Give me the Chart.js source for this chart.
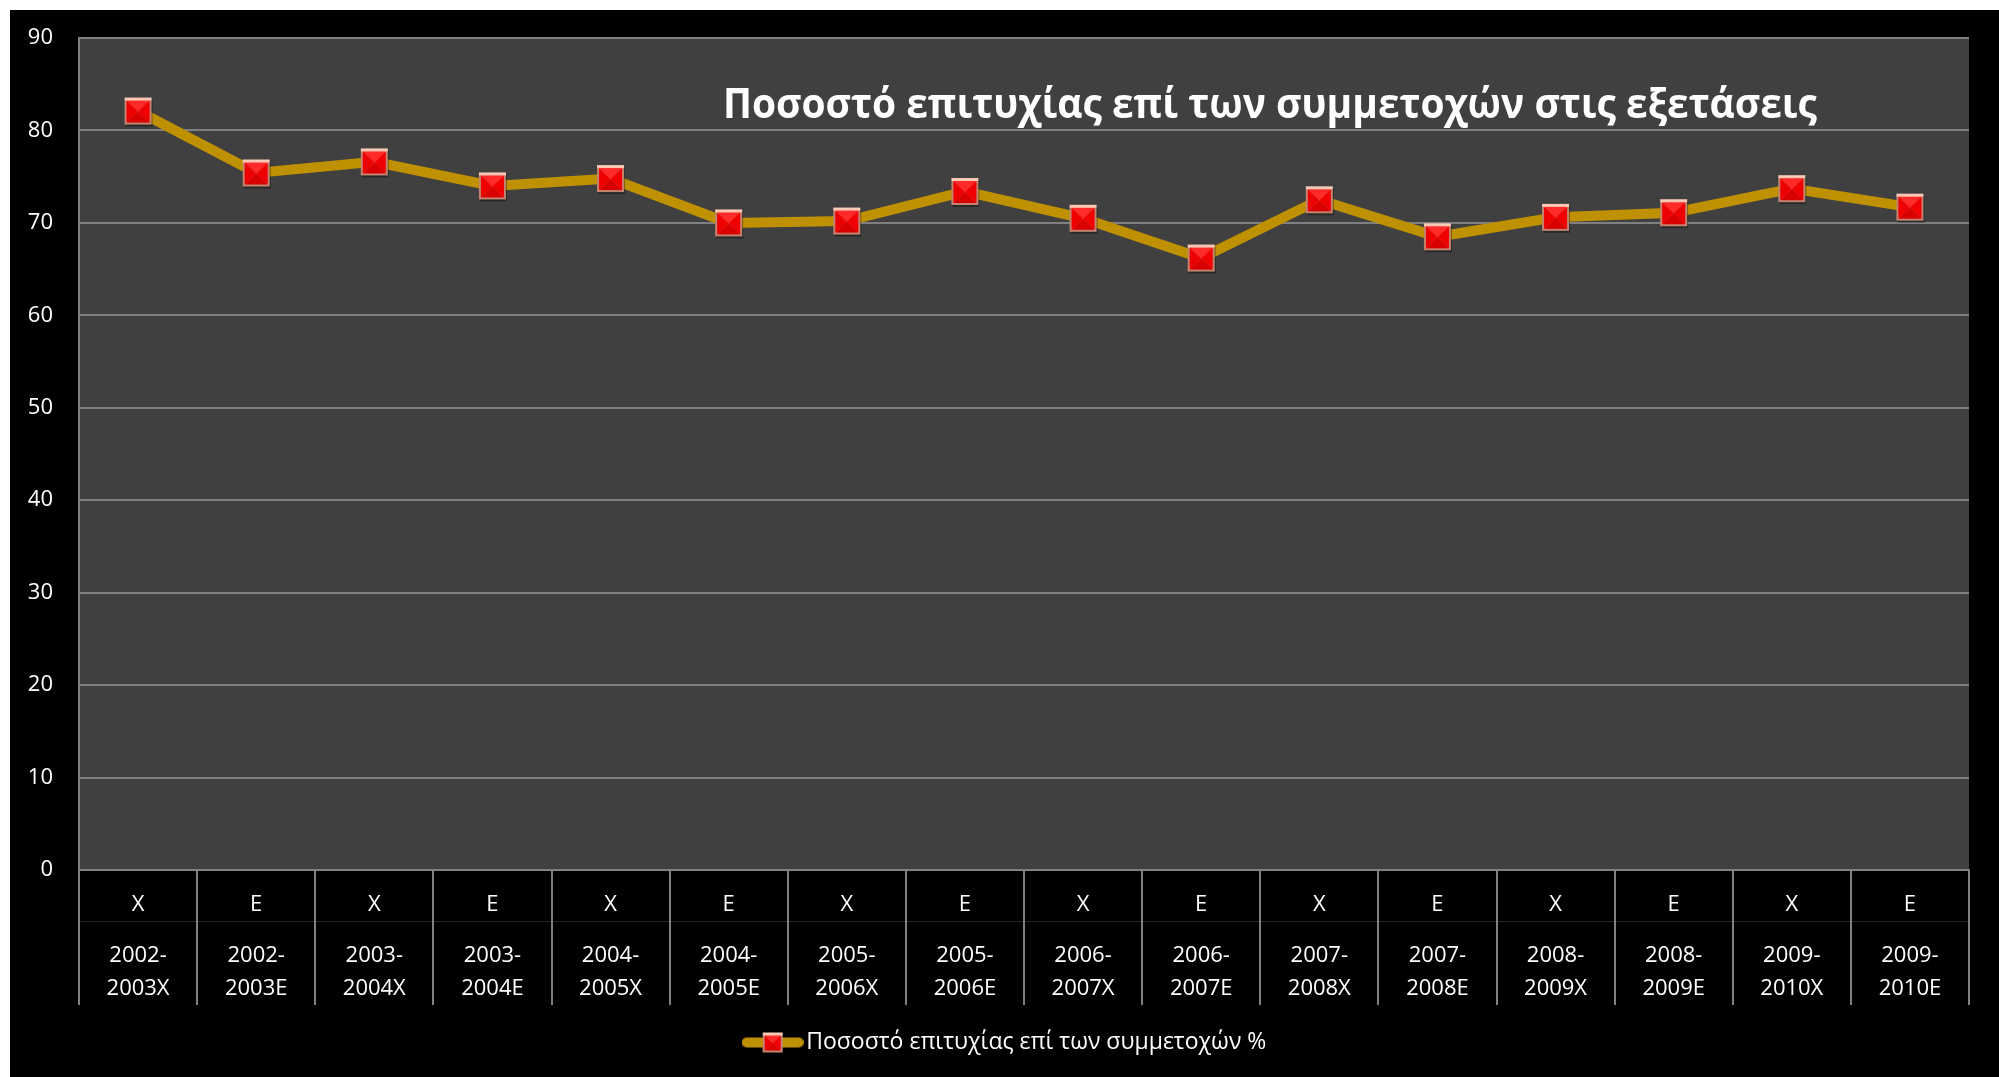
<!DOCTYPE html>
<html>
<head>
<meta charset="utf-8">
<script src="https://cdn.jsdelivr.net/npm/chart.js@4.4.1/dist/chart.umd.min.js"></script>
<style>
  html, body { margin: 0; padding: 0; background: #ffffff; }
  #wrap { position: absolute; left: 10px; top: 10px; width: 1989px; height: 1067px; background: #000000; }
</style>
</head>
<body>
<div id="wrap"><canvas id="chart" width="1989" height="1067"></canvas></div>
<script>
// chart data
const sessions = ['X', 'E', 'X', 'E', 'X', 'E', 'X', 'E', 'X', 'E', 'X', 'E', 'X', 'E', 'X', 'E'];
const years = [
    ['2002-', '2003X'], ['2002-', '2003E'], ['2003-', '2004X'], ['2003-', '2004E'],
    ['2004-', '2005X'], ['2004-', '2005E'], ['2005-', '2006X'], ['2005-', '2006E'],
    ['2006-', '2007X'], ['2006-', '2007E'], ['2007-', '2008X'], ['2007-', '2008E'],
    ['2008-', '2009X'], ['2008-', '2009E'], ['2009-', '2010X'], ['2009-', '2010E']
];
const successRate = [82.1, 75.4, 76.6, 74.0, 74.8, 70.0, 70.2, 73.4, 70.5, 66.2, 72.5, 68.5, 70.6, 71.1, 73.7, 71.7];
const yTicks = [0, 10, 20, 30, 40, 50, 60, 70, 80, 90];

const seriesName = 'Ποσοστό επιτυχίας επί των συμμετοχών %';
const chartTitle = 'Ποσοστό επιτυχίας επί των συμμετοχών στις εξετάσεις';

const FONT = '"Open Sans", "Noto Sans", sans-serif';
const GRID = '#808080';
const GOLD = '#BF9000';

// beveled red square, like the office marker
function drawMarker(g, x, y, s) {
    const b = Math.max(2, Math.round(s * 0.09));
    g.fillStyle = '#C4836F';
    g.fillRect(x, y, s, s);
    g.fillStyle = '#FFC9B5';
    g.fillRect(x, y, s, b + 1);
    const ix = x + b, iy = y + b + 1, iw = s - 2 * b, ih = s - 2 * b - 1;
    const cx = ix + iw / 2, cy = iy + ih / 2;
    const tri = (pts, col) => {
        g.fillStyle = col;
        g.beginPath();
        g.moveTo(pts[0], pts[1]);
        g.lineTo(pts[2], pts[3]);
        g.lineTo(cx, cy);
        g.closePath();
        g.fill();
    };
    tri([ix, iy, ix + iw, iy], '#FF2B2B');
    tri([ix + iw, iy, ix + iw, iy + ih], '#F00000');
    tri([ix, iy + ih, ix + iw, iy + ih], '#D80000');
    tri([ix, iy, ix, iy + ih], '#EE0000');
}

function makeMarker(s) {
    const pad = 3;
    const c = document.createElement('canvas');
    c.width = s + pad * 2;
    c.height = s + pad * 2;
    const g = c.getContext('2d');
    g.fillStyle = 'rgba(0,0,0,0.35)';
    g.fillRect(pad + 1, pad + 2, s, s);
    drawMarker(g, pad, pad, s);
    return c;
}

function makeLegendSymbol() {
    const c = document.createElement('canvas');
    c.width = 62;
    c.height = 22;
    const g = c.getContext('2d');
    g.strokeStyle = GOLD;
    g.lineWidth = 10;
    g.lineCap = 'round';
    g.beginPath();
    g.moveTo(5, 11);
    g.lineTo(57, 11);
    g.stroke();
    drawMarker(g, 21, 1, 20);
    return c;
}

const plotBackground = {
    id: 'plotBackground',
    beforeDraw(chart) {
        const { ctx, chartArea: a } = chart;
        ctx.save();
        ctx.fillStyle = '#404040';
        ctx.fillRect(a.left, a.top, a.right - a.left, a.bottom - a.top);
        ctx.restore();
    }
};

// nudge the legend a bit right, like the original
const legendShift = {
    id: 'legendShift',
    afterLayout(chart) {
        if (!chart.legend) return;
        chart.legend.left += 19;
        chart.legend.right += 19;
    }
};

// cell separators of the two-level category axis + the in-plot title
const axisCells = {
    id: 'axisCells',
    afterDraw(chart) {
        const { ctx, chartArea: a } = chart;
        const xs = chart.scales.x;
        const x2 = chart.scales.x2;
        const step = xs.width / sessions.length;
        ctx.save();
        ctx.strokeStyle = '#262626';
        ctx.lineWidth = 1;
        ctx.beginPath();
        ctx.moveTo(a.left, x2.top + 0.5);
        ctx.lineTo(a.right, x2.top + 0.5);
        ctx.stroke();
        ctx.strokeStyle = GRID;
        ctx.lineWidth = 2;
        for (let i = 0; i <= sessions.length; i++) {
            const px = Math.round(xs.left + i * step);
            ctx.beginPath();
            ctx.moveTo(px, a.bottom);
            ctx.lineTo(px, x2.bottom);
            ctx.stroke();
        }
        // title inside the plot area
        ctx.font = 'bold 41px ' + FONT;
        ctx.fillStyle = '#ffffff';
        ctx.textBaseline = 'alphabetic';
        ctx.textAlign = 'center';
        const w = ctx.measureText(chartTitle).width;
        const sx = Math.min(1, 1094 / w);
        ctx.translate(1260, 108);
        ctx.scale(sx, 1);
        ctx.fillText(chartTitle, 0, 0);
        ctx.restore();
    }
};

const ctx = document.getElementById('chart').getContext('2d');
new Chart(ctx, {
    type: 'line',
    data: {
        labels: sessions,
        datasets: [{
            label: seriesName,
            data: successRate,
            borderColor: GOLD,
            backgroundColor: GOLD,
            borderWidth: 10,
            tension: 0,
            pointStyle: makeMarker(27),
            pointRadius: 14,
            pointHoverRadius: 14
        }]
    },
    options: {
        responsive: false,
        animation: false,
        layout: { padding: { top: 28, right: 30, left: 0, bottom: 13 } },
        scales: {
            x: {
                type: 'category',
                offset: true,
                weight: 0,
                grid: { display: false, drawTicks: false },
                border: { display: true, color: GRID, width: 2 },
                ticks: { color: '#ffffff', font: { family: FONT, size: 22 }, padding: 22, maxRotation: 0, autoSkip: false },
                afterFit(scale) { scale.height = 51; }
            },
            x2: {
                type: 'category',
                labels: years,
                position: 'bottom',
                offset: true,
                weight: 1,
                grid: { display: false, drawTicks: false },
                border: { display: false },
                ticks: { color: '#ffffff', font: { family: FONT, size: 22, lineHeight: '33px' }, padding: 18, maxRotation: 0, autoSkip: false },
                afterFit(scale) { scale.height = 84; }
            },
            y: {
                min: 0,
                max: 90,
                afterBuildTicks(scale) { scale.ticks = yTicks.map(v => ({ value: v })); },
                grid: { color: GRID, lineWidth: 2, drawTicks: false },
                border: { display: true, color: GRID, width: 2 },
                ticks: { color: '#ffffff', font: { family: FONT, size: 22 }, padding: 26 },
                afterFit(scale) {
                    scale.width = 69;
                    scale.paddingTop = 0;
                    scale.paddingBottom = 0;
                }
            }
        },
        plugins: {
            title: { display: false },
            tooltip: { enabled: false },
            legend: {
                position: 'bottom',
                labels: {
                    color: '#ffffff',
                    font: { family: FONT, size: 23 },
                    usePointStyle: true,
                    pointStyle: makeLegendSymbol(),
                    pointStyleWidth: 44,
                    padding: 26
                }
            }
        }
    },
    plugins: [plotBackground, legendShift, axisCells]
});
</script>
</body>
</html>
